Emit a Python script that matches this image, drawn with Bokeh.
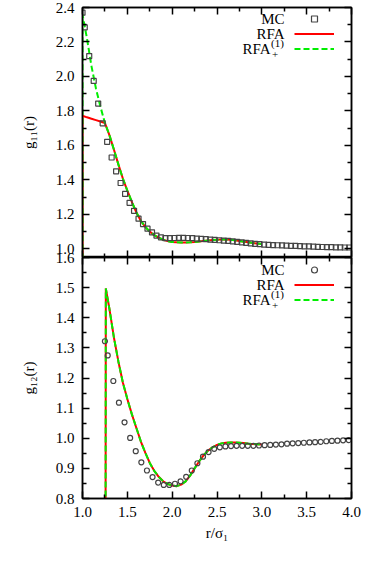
from bokeh.plotting import figure
from bokeh.models import (Range1d, LinearAxis, FixedTicker, PrintfTickFormatter,
                          Legend, LegendItem, Label)
from bokeh.layouts import column
from bokeh.embed import file_html
from bokeh.resources import INLINE

FONT = "Liberation Serif"

# ---------------- data ----------------
x_ticks = [1.0, 1.5, 2.0, 2.5, 3.0, 3.5, 4.0]
x_minor = [1.25, 1.75, 2.25, 2.75, 3.25, 3.75]
y11_ticks = [1.0, 1.2, 1.4, 1.6, 1.8, 2.0, 2.2, 2.4]
y11_minor = [1.1, 1.3, 1.5, 1.7, 1.9, 2.1, 2.3]
y12_ticks = [0.8, 0.9, 1.0, 1.1, 1.2, 1.3, 1.4, 1.5, 1.6]
y12_minor = [0.85, 0.95, 1.05, 1.15, 1.25, 1.35, 1.45, 1.55]

# g11: Monte Carlo
r11_mc = [1.000, 1.025, 1.075, 1.125, 1.175, 1.225, 1.275, 1.325, 1.375, 1.425,
          1.475, 1.525, 1.575, 1.625, 1.675, 1.725, 1.775, 1.825, 1.875, 1.925,
          1.975, 2.025, 2.075, 2.125, 2.175, 2.225, 2.275, 2.325, 2.375, 2.425,
          2.475, 2.525, 2.575, 2.625, 2.675, 2.725, 2.775, 2.825, 2.875, 2.925,
          2.975, 3.025, 3.075, 3.125, 3.175, 3.225, 3.275, 3.325, 3.375, 3.425,
          3.475, 3.525, 3.575, 3.625, 3.675, 3.725, 3.775, 3.825, 3.875, 3.925,
          3.975]
g11_mc = [2.370, 2.285, 2.118, 1.974, 1.843, 1.728, 1.621, 1.530, 1.450, 1.382,
          1.319, 1.267, 1.221, 1.175, 1.144, 1.117, 1.096, 1.077, 1.067, 1.062,
          1.062, 1.063, 1.064, 1.064, 1.063, 1.062, 1.060, 1.058, 1.056, 1.054,
          1.052, 1.050, 1.048, 1.046, 1.044, 1.041, 1.038, 1.035, 1.032, 1.029,
          1.027, 1.025, 1.023, 1.022, 1.021, 1.020, 1.019, 1.018, 1.017, 1.016,
          1.015, 1.014, 1.013, 1.012, 1.011, 1.010, 1.010, 1.009, 1.009, 1.008,
          1.008]

# g11: RFA and RFA+(1)
r11_th = [1.00, 1.00, 1.05, 1.10, 1.15, 1.20, 1.25, 1.30, 1.35, 1.40, 1.45,
          1.50, 1.55, 1.60, 1.65, 1.70, 1.75, 1.80, 1.85, 1.90, 1.95, 2.00,
          2.05, 2.10, 2.15, 2.20, 2.25, 2.30, 2.35, 2.40, 2.45, 2.50, 2.55,
          2.60, 2.65, 2.70, 2.75, 2.80, 2.85, 2.90, 2.95, 3.00]
g11_rfa = [0.0, 1.772, 1.763, 1.755, 1.747, 1.739, 1.730, 1.660, 1.576, 1.490,
           1.408, 1.338, 1.273, 1.212, 1.163, 1.128, 1.100, 1.080, 1.065, 1.053,
           1.045, 1.040, 1.038, 1.037, 1.037, 1.038, 1.040, 1.043, 1.046, 1.049,
           1.051, 1.053, 1.054, 1.054, 1.053, 1.050, 1.046, 1.042, 1.038, 1.034,
           1.031, 1.028]
g11_rfa1 = [0.0, 2.360, 2.220, 2.060, 1.930, 1.825, 1.730, 1.660, 1.576, 1.490,
            1.408, 1.338, 1.273, 1.212, 1.163, 1.128, 1.100, 1.080, 1.065, 1.053,
            1.045, 1.040, 1.038, 1.037, 1.037, 1.038, 1.040, 1.043, 1.046, 1.049,
            1.051, 1.053, 1.054, 1.054, 1.053, 1.050, 1.046, 1.042, 1.038, 1.034,
            1.031, 1.028]

# g12: Monte Carlo
r12_mc = [1.25, 1.28125, 1.34375, 1.40625, 1.46875, 1.53125, 1.59375, 1.65625,
          1.71875, 1.78125, 1.84375, 1.90625, 1.96875, 2.03125, 2.09375, 2.15625,
          2.21875, 2.28125, 2.34375, 2.40625, 2.46875, 2.53125, 2.59375, 2.65625,
          2.71875, 2.78125, 2.84375, 2.90625, 2.96875, 3.03125, 3.09375, 3.15625,
          3.21875, 3.28125, 3.34375, 3.40625, 3.46875, 3.53125, 3.59375, 3.65625,
          3.71875, 3.78125, 3.84375, 3.90625, 3.96875]
g12_mc = [1.322, 1.275, 1.190, 1.118, 1.053, 1.001, 0.957, 0.920, 0.893, 0.871,
          0.853, 0.845, 0.845, 0.849, 0.857, 0.872, 0.893, 0.917, 0.939, 0.954,
          0.965, 0.970, 0.973, 0.974, 0.975, 0.975, 0.975, 0.975, 0.976, 0.977,
          0.978, 0.979, 0.980, 0.982, 0.983, 0.984, 0.985, 0.986, 0.987, 0.988,
          0.990, 0.991, 0.992, 0.993, 0.994]

# g12: RFA and RFA+(1) (coincide)
r12_th = [1.255, 1.26, 1.30, 1.35, 1.40, 1.45, 1.50, 1.55, 1.60, 1.65, 1.70,
          1.75, 1.80, 1.85, 1.90, 1.95, 2.00, 2.05, 2.10, 2.15, 2.20, 2.25,
          2.30, 2.35, 2.40, 2.45, 2.50, 2.55, 2.60, 2.65, 2.70, 2.75, 2.80,
          2.85, 2.90, 2.95, 3.00]
g12_rfa = [0.0, 1.497, 1.430, 1.335, 1.255, 1.185, 1.130, 1.080, 1.035, 0.990,
           0.952, 0.918, 0.892, 0.872, 0.857, 0.848, 0.843, 0.841, 0.846, 0.857,
           0.876, 0.900, 0.923, 0.943, 0.959, 0.970, 0.978, 0.983, 0.985, 0.986,
           0.986, 0.985, 0.984, 0.982, 0.981, 0.980, 0.979]
g12_rfa1 = [0.0, 1.497, 1.430, 1.335, 1.255, 1.185, 1.130, 1.080, 1.035, 0.990,
            0.952, 0.918, 0.892, 0.872, 0.857, 0.848, 0.843, 0.841, 0.846, 0.857,
            0.876, 0.900, 0.923, 0.943, 0.959, 0.970, 0.978, 0.983, 0.985, 0.986,
            0.986, 0.985, 0.984, 0.982, 0.981, 0.980, 0.979]

RED = "#ff0000"
GREEN = "#00ee00"
MARK = "#444444"


def style_axis(ax, major, minor, t_in=7, m_in=4, t_out=0, m_out=0, labels=True,
               standoff=8):
    ax.ticker = FixedTicker(ticks=major, minor_ticks=minor)
    ax.axis_line_color = "black"
    ax.axis_line_width = 1.5
    ax.major_tick_in = t_in
    ax.major_tick_out = t_out
    ax.minor_tick_in = m_in
    ax.minor_tick_out = m_out
    ax.major_tick_line_color = "black"
    ax.minor_tick_line_color = "black"
    ax.major_tick_line_width = 1.5
    ax.minor_tick_line_width = 1.5
    if labels:
        ax.formatter = PrintfTickFormatter(format="%.1f")
        ax.major_label_text_font = FONT
        ax.major_label_text_font_size = "15px"
        ax.major_label_text_color = "black"
        ax.major_label_standoff = standoff
    else:
        # mirrored axis: ticks only, labels not drawn
        ax.major_label_text_color = None
        ax.major_label_text_font_size = "1px"
        ax.major_label_standoff = 0
    ax.axis_label_text_font = FONT
    ax.axis_label_text_font_size = "15px"
    ax.axis_label_text_font_style = "normal"
    ax.axis_label_text_color = "black"


def add_legend(p, rs, rows, vx, vy):
    items = [LegendItem(label="", renderers=[r]) for r in rs]
    lg = Legend(items=items, location=(vx, vy), glyph_width=40, glyph_height=15,
                label_width=0, label_standoff=0, label_height=15,
                label_text_font_size="10px", spacing=0, padding=0, margin=0,
                border_line_color=None, background_fill_alpha=0)
    p.add_layout(lg)
    (y_mc, y_rfa, y_rfa1, y_sup, y_sub) = rows
    common = dict(x_units="screen", y_units="screen", text_baseline="middle",
                  text_font=FONT, text_color="black")
    p.add_layout(Label(x=202, y=y_mc, text="MC", text_align="right",
                       text_font_size="15px", **common))
    p.add_layout(Label(x=202, y=y_rfa, text="RFA", text_align="right",
                       text_font_size="15px", **common))
    p.add_layout(Label(x=188, y=y_rfa1, text="RFA", text_align="right",
                       text_font_size="15px", **common))
    p.add_layout(Label(x=188.5, y=y_sup, text="(1)", text_align="left",
                       text_font_size="11px", **common))
    p.add_layout(Label(x=189.5, y=y_sub, text="+", text_align="left",
                       text_font_size="11px", **common))


# ---------------- top panel: g11 ----------------
p1 = figure(width=363, height=257, x_range=Range1d(1.0, 4.0),
            y_range=Range1d(0.95, 2.4), x_axis_location=None,
            output_backend="svg", toolbar_location=None,
            min_border_left=82, min_border_right=12, min_border_top=7,
            min_border_bottom=0)
p1.outline_line_color = "black"
p1.outline_line_width = 1.5
p1.grid.visible = False
style_axis(p1.yaxis[0], y11_ticks, y11_minor)
p1.yaxis[0].axis_label = "g₁₁(r)"
p1.yaxis[0].axis_label_standoff = 16
top_ax = LinearAxis()
style_axis(top_ax, x_ticks, x_minor, labels=False)
p1.add_layout(top_ax, "above")
right1 = LinearAxis()
style_axis(right1, y11_ticks, y11_minor, labels=False)
p1.add_layout(right1, "right")

r_rfa = p1.line(r11_th, g11_rfa, line_color=RED, line_width=2)
r_rfa1 = p1.line(r11_th, g11_rfa1, line_color=GREEN, line_width=2, line_dash="6 3")
r_mc = p1.scatter(r11_mc, g11_mc, marker="square", size=5, line_color=MARK,
                  line_width=1.2, fill_color=None)
add_legend(p1, [r_mc, r_rfa, r_rfa1], (239, 224, 209, 215, 203), 212, 201.5)

# ---------------- bottom panel: g12 ----------------
p2 = figure(width=363, height=297, x_range=Range1d(1.0, 4.0),
            y_range=Range1d(0.8, 1.6), output_backend="svg",
            toolbar_location=None, min_border_left=82, min_border_right=12,
            min_border_top=8, min_border_bottom=48)
p2.margin = (-8, 0, 0, 0)
p2.border_fill_color = None
p2.outline_line_color = "black"
p2.outline_line_width = 1.5
p2.grid.visible = False
style_axis(p2.yaxis[0], y12_ticks, y12_minor)
p2.yaxis[0].axis_label = "g₁₂(r)"
p2.yaxis[0].axis_label_standoff = 16
style_axis(p2.xaxis[0], x_ticks, x_minor, standoff=8)
p2.xaxis[0].axis_label = "r/σ₁"
p2.xaxis[0].axis_label_standoff = 5
top2 = LinearAxis()
style_axis(top2, x_ticks, x_minor, t_out=7, m_out=4, labels=False)
p2.add_layout(top2, "above")
right2 = LinearAxis()
style_axis(right2, y12_ticks, y12_minor, labels=False)
p2.add_layout(right2, "right")

q_rfa = p2.line(r12_th, g12_rfa, line_color=RED, line_width=2)
q_rfa1 = p2.line(r12_th, g12_rfa1, line_color=GREEN, line_width=2, line_dash="6 3")
q_mc = p2.scatter(r12_mc, g12_mc, marker="circle", size=5, line_color=MARK,
                  line_width=1.2, fill_color=None)
add_legend(p2, [q_mc, q_rfa, q_rfa1], (229, 214, 199, 205, 193), 212, 191.5)

layout = column(p1, p2, spacing=0)
open("out.html", "w").write(file_html(layout, INLINE))
